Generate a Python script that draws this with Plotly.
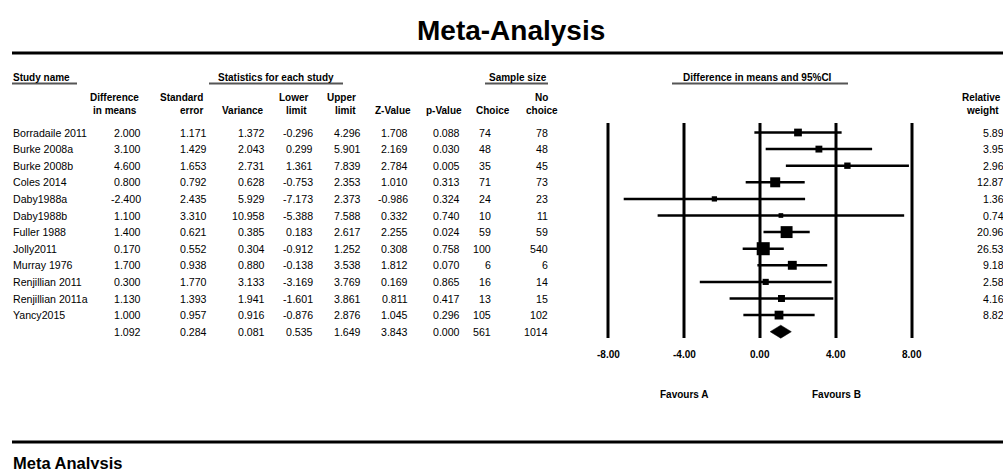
import plotly.graph_objects as go

# ---------------- data ----------------
studies = ["Borradaile 2011", "Burke 2008a", "Burke 2008b", "Coles 2014", "Daby1988a",
           "Daby1988b", "Fuller 1988", "Jolly2011", "Murray 1976", "Renjillian 2011",
           "Renjillian 2011a", "Yancy2015"]
diff = [2.000, 3.100, 4.600, 0.800, -2.400, 1.100, 1.400, 0.170, 1.700, 0.300, 1.130, 1.000]
se = [1.171, 1.429, 1.653, 0.792, 2.435, 3.310, 0.621, 0.552, 0.938, 1.770, 1.393, 0.957]
variance = [1.372, 2.043, 2.731, 0.628, 5.929, 10.958, 0.385, 0.304, 0.880, 3.133, 1.941, 0.916]
lower = [-0.296, 0.299, 1.361, -0.753, -7.173, -5.388, 0.183, -0.912, -0.138, -3.169, -1.601, -0.876]
upper = [4.296, 5.901, 7.839, 2.353, 2.373, 7.588, 2.617, 1.252, 3.538, 3.769, 3.861, 2.876]
zval = [1.708, 2.169, 2.784, 1.010, -0.986, 0.332, 2.255, 0.308, 1.812, 0.169, 0.811, 1.045]
pval = [0.088, 0.030, 0.005, 0.313, 0.324, 0.740, 0.024, 0.758, 0.070, 0.865, 0.417, 0.296]
choice = [74, 48, 35, 71, 24, 10, 59, 100, 6, 16, 13, 105]
nochoice = [78, 48, 45, 73, 23, 11, 59, 540, 6, 14, 15, 102]
weight = [5.89, 3.95, 2.96, 12.87, 1.36, 0.74, 20.96, 26.53, 9.18, 2.58, 4.16, 8.82]

pooled_diff = 1.092
pooled_se = 0.284
pooled_var = 0.081
pooled_lower = 0.535
pooled_upper = 1.649
pooled_z = 3.843
pooled_p = 0.000
pooled_choice = 561
pooled_nochoice = 1014

tick_values = [-8, -4, 0, 4, 8]
tick_labels = ["-8.00", "-4.00", "0.00", "4.00", "8.00"]

# ---------------- layout helpers ----------------
W, H = 1003, 469
FONT = "Liberation Sans, Arial, sans-serif"
BODY = 10.6
ZERO_PX, PX_PER_UNIT = 760.0, 19.0
ROW0_PX, ROW_STEP = 132.5, 16.6

def px(xp):
    return xp / W

def py(yp):
    return 1 - yp / H

def row_of_px(yp):
    return (yp - ROW0_PX) / ROW_STEP

n = len(studies)
rows = list(range(n))
pooled_row = n

fig = go.Figure()

# vertical reference lines of the forest plot
vx, vy = [], []
for t in tick_values:
    vx += [t, t, None]
    vy += [row_of_px(123), row_of_px(338), None]
fig.add_trace(go.Scatter(x=vx, y=vy, mode="lines",
                         line=dict(color="black", width=3), hoverinfo="skip"))

# study estimates with CIs
sizes = [3 + 1.95 * (w ** 0.5) for w in weight]
fig.add_trace(go.Scatter(
    x=diff, y=rows, mode="markers",
    marker=dict(symbol="square", size=sizes, color="black", opacity=1,
                line=dict(width=0, color="black")),
    error_x=dict(type="data", symmetric=False,
                 array=[u - d for u, d in zip(upper, diff)],
                 arrayminus=[d - l for d, l in zip(diff, lower)],
                 thickness=2.5, width=0, color="black"),
    hoverinfo="skip"))

# pooled diamond
h = 6.5 / ROW_STEP
fig.add_trace(go.Scatter(
    x=[pooled_lower, pooled_diff, pooled_upper, pooled_diff, pooled_lower],
    y=[pooled_row, pooled_row - h, pooled_row, pooled_row + h, pooled_row],
    mode="lines", fill="toself", fillcolor="black",
    line=dict(color="black", width=0.5), hoverinfo="skip"))

ann = []

def text(x, y, s, anchor="right", size=10, bold=False, yref="y"):
    ann.append(dict(x=px(x), y=y if yref == "y" else py(y), xref="paper", yref=yref,
                    text=("<b>%s</b>" % s) if bold else s, showarrow=False,
                    xanchor=anchor, yanchor="middle",
                    font=dict(family=FONT, size=size, color="black")))

# table body
col_right = dict(diff=143, se=209, var=267, lo=315, up=363, z=410, p=462,
                 ch=493, nch=550, w=1006)
for i in rows:
    text(11, i, studies[i], anchor="left", size=BODY)
    text(col_right["diff"], i, "%.3f" % diff[i], size=BODY)
    text(col_right["se"], i, "%.3f" % se[i], size=BODY)
    text(col_right["var"], i, "%.3f" % variance[i], size=BODY)
    text(col_right["lo"], i, "%.3f" % lower[i], size=BODY)
    text(col_right["up"], i, "%.3f" % upper[i], size=BODY)
    text(col_right["z"], i, "%.3f" % zval[i], size=BODY)
    text(col_right["p"], i, "%.3f" % pval[i], size=BODY)
    text(col_right["ch"], i, "%d" % choice[i], size=BODY)
    text(col_right["nch"], i, "%d" % nochoice[i], size=BODY)
    text(col_right["w"], i, "%.2f" % weight[i], size=BODY)

r = pooled_row
text(col_right["diff"], r, "%.3f" % pooled_diff, size=BODY)
text(col_right["se"], r, "%.3f" % pooled_se, size=BODY)
text(col_right["var"], r, "%.3f" % pooled_var, size=BODY)
text(col_right["lo"], r, "%.3f" % pooled_lower, size=BODY)
text(col_right["up"], r, "%.3f" % pooled_upper, size=BODY)
text(col_right["z"], r, "%.3f" % pooled_z, size=BODY)
text(col_right["p"], r, "%.3f" % pooled_p, size=BODY)
text(col_right["ch"], r, "%d" % pooled_choice, size=BODY)
text(col_right["nch"], r, "%d" % pooled_nochoice, size=BODY)

# column headers
L1, L2 = 97, 111
text(141, L1, "Difference", bold=True, yref="paper")
text(139, L2, "in means", bold=True, yref="paper")
text(205, L1, "Standard", bold=True, yref="paper")
text(205, L2, "error", bold=True, yref="paper")
text(266, L2, "Variance", bold=True, yref="paper")
text(311, L1, "Lower", bold=True, yref="paper")
text(309, L2, "limit", bold=True, yref="paper")
text(358, L1, "Upper", bold=True, yref="paper")
text(358, L2, "limit", bold=True, yref="paper")
text(413, L2, "Z-Value", bold=True, yref="paper")
text(464, L2, "p-Value", bold=True, yref="paper")
text(493, L2, "Choice", anchor="center", bold=True, yref="paper")
text(541, L1, "No", anchor="center", bold=True, yref="paper")
text(542, L2, "choice", anchor="center", bold=True, yref="paper")
text(981, L1, "Relative", anchor="center", bold=True, yref="paper")
text(982, L2, "weight", anchor="center", bold=True, yref="paper")

# group headers
G = 77
text(11, G, "Study name", anchor="left", bold=True, yref="paper")
text(276, G, "Statistics for each study", anchor="center", bold=True, yref="paper")
text(518, G, "Sample size", anchor="center", bold=True, yref="paper")
text(757, G, "Difference in means and 95%CI", anchor="center", bold=True, yref="paper")

# axis tick labels and favours labels
for t, lab in zip(tick_values, tick_labels):
    ann.append(dict(x=t, y=row_of_px(354), xref="x", yref="y", text="<b>%s</b>" % lab,
                    showarrow=False, xanchor="center", yanchor="middle",
                    font=dict(family=FONT, size=10, color="black")))
ann.append(dict(x=tick_values[1], y=row_of_px(394), xref="x", yref="y", text="<b>Favours A</b>",
                showarrow=False, xanchor="center", yanchor="middle",
                font=dict(family=FONT, size=10, color="black")))
ann.append(dict(x=tick_values[3], y=row_of_px(394), xref="x", yref="y", text="<b>Favours B</b>",
                showarrow=False, xanchor="center", yanchor="middle",
                font=dict(family=FONT, size=10, color="black")))

# title and footer
text(511, 30, "Meta-Analysis", anchor="center", size=28, bold=True, yref="paper")
text(11, 463, "Meta Analysis", anchor="left", size=16.5, bold=True, yref="paper")

shapes = []

def hline(x0, x1, y, width, color):
    shapes.append(dict(type="line", xref="paper", yref="paper",
                       x0=px(x0), x1=px(x1), y0=py(y), y1=py(y),
                       line=dict(color=color, width=width)))

hline(12, 1003, 53, 3, "black")
hline(12, 1003, 442, 3, "black")
for a, b in [(12, 77), (209, 343), (485, 548), (672, 848)]:
    hline(a, b, 83.5, 2, "#555555")

fig.update_layout(
    width=W, height=H, margin=dict(l=0, r=0, t=0, b=0),
    paper_bgcolor="white", plot_bgcolor="white", showlegend=False,
    xaxis=dict(range=[-ZERO_PX / PX_PER_UNIT, (W - ZERO_PX) / PX_PER_UNIT], domain=[0, 1],
               visible=False, fixedrange=True),
    yaxis=dict(range=[(H - ROW0_PX) / ROW_STEP, -ROW0_PX / ROW_STEP], domain=[0, 1],
               visible=False, fixedrange=True),
    annotations=ann, shapes=shapes,
)

fig.write_html(
    "out.html",
    config={"displayModeBar": False},
    post_script="document.body.style.margin='0';document.body.style.padding='0';"
                "document.body.style.overflow='hidden';",
)
